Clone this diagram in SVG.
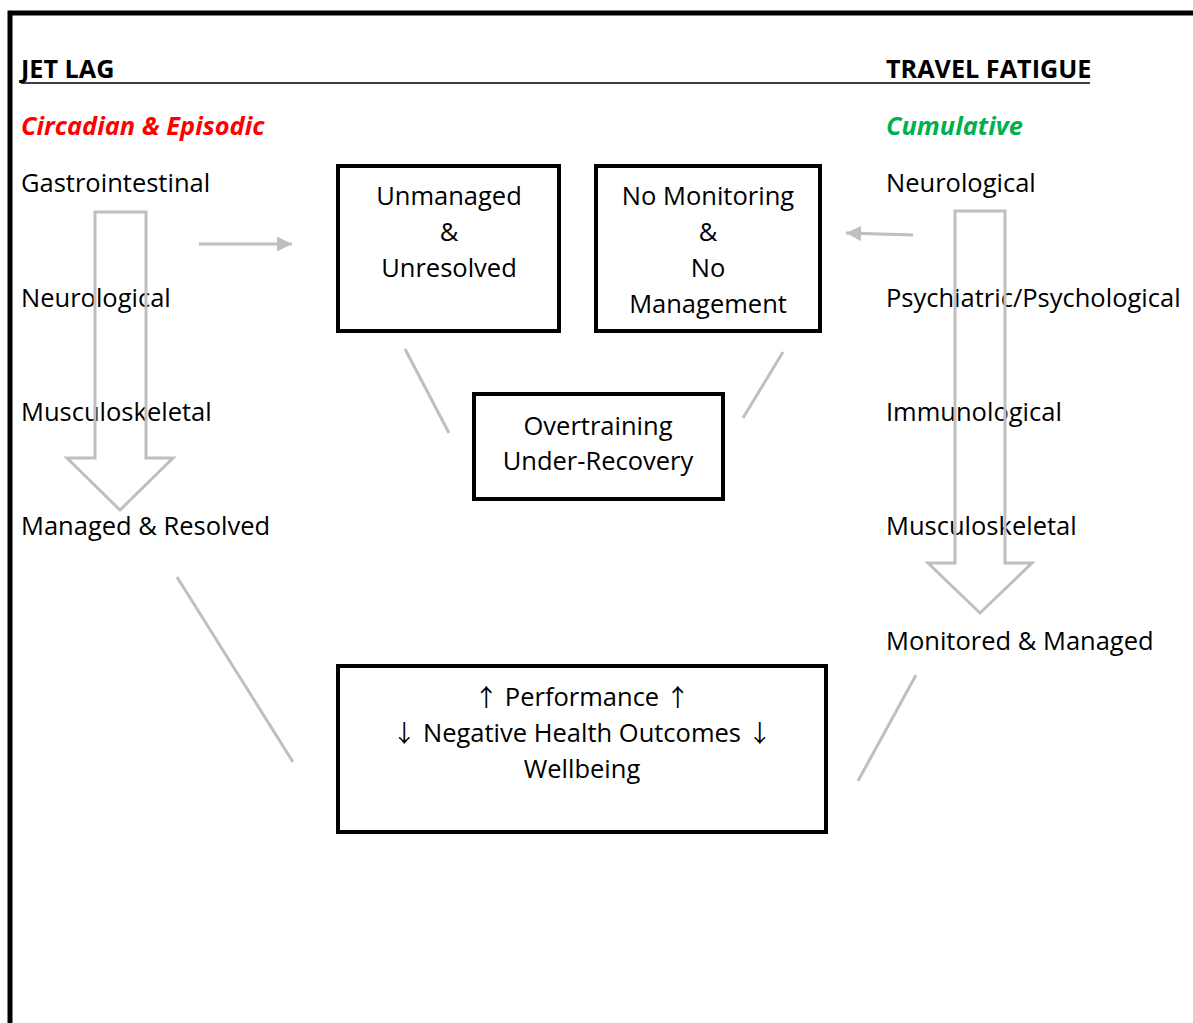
<svg xmlns="http://www.w3.org/2000/svg" width="1193" height="1023" viewBox="0 0 1193 1023">
<style>
text{font-family:"Open Sans","Noto Sans","Liberation Sans",sans-serif;font-size:25.5px;fill:#000}
.h{font-weight:bold;font-size:25.2px}
.sub{font-weight:bold;font-style:italic;font-size:25.4px}
.c{text-anchor:middle}
.ar{font-family:"Noto Sans CJK SC","DejaVu Sans",sans-serif;font-size:24px}
.box{fill:#fff;stroke:#000;stroke-width:4}
.gl{stroke:#BFBFBF;stroke-width:3;fill:none}
.blk{stroke:#BFBFBF;stroke-width:3;fill:none;stroke-linejoin:miter}
</style>
<defs>
<marker id="ah" viewBox="0 0 10 10" refX="10" refY="5" markerWidth="5" markerHeight="5" markerUnits="strokeWidth" orient="auto"><path d="M0,0 L10,5 L0,10 z" fill="#BFBFBF"/></marker>
</defs>
<rect width="1193" height="1023" fill="#fff"/>
<path d="M10,1030 V13 H1200" fill="none" stroke="#000" stroke-width="5"/>
<g id="headers">
<text class="h" x="21" y="78">JET LAG</text>
<text class="h" x="886" y="78">TRAVEL FATIGUE</text>
<line x1="21" y1="83" x2="1090" y2="83" stroke="#000" stroke-width="1.6"/>
<text class="sub" x="21" y="135" style="fill:#FF0000">Circadian &amp; Episodic</text>
<text class="sub" x="886" y="135" style="fill:#00B050">Cumulative</text>
</g>
<g id="left-list">
<text x="21" y="192">Gastrointestinal</text>
<text x="21" y="307">Neurological</text>
<text x="21" y="421">Musculoskeletal</text>
<text x="21" y="535">Managed &amp; Resolved</text>
</g>
<g id="right-list">
<text x="886" y="192">Neurological</text>
<text x="886" y="307">Psychiatric/Psychological</text>
<text x="886" y="421">Immunological</text>
<text x="886" y="535">Musculoskeletal</text>
<text x="886" y="650">Monitored &amp; Managed</text>
</g>
<g id="connectors">
<path class="blk" d="M95,212 H146 V458 H173 L120,510 L67,458 H95 Z"/>
<path class="blk" d="M955,211 H1005 V563 H1032 L980,613 L928,563 H955 Z"/>
<line class="gl" x1="199" y1="244" x2="292" y2="244" marker-end="url(#ah)"/>
<line class="gl" x1="913" y1="235" x2="846" y2="233" marker-end="url(#ah)"/>
<line class="gl" x1="405" y1="349" x2="449" y2="433"/>
<line class="gl" x1="783" y1="352" x2="743" y2="418"/>
<line class="gl" x1="177" y1="577" x2="293" y2="762"/>
<line class="gl" x1="916" y1="675" x2="858" y2="781"/>
</g>
<g id="unmanaged">
<rect class="box" x="338" y="166" width="221" height="165"/>
<text class="c" x="449" y="205">Unmanaged</text>
<text class="c" x="449" y="241">&amp;</text>
<text class="c" x="449" y="277">Unresolved</text>
</g>
<g id="nomonitoring">
<rect class="box" x="596" y="166" width="224" height="165"/>
<text class="c" x="708" y="205">No Monitoring</text>
<text class="c" x="708" y="241">&amp;</text>
<text class="c" x="708" y="277">No</text>
<text class="c" x="708" y="313">Management</text>
</g>
<g id="overtraining">
<rect class="box" x="474" y="394" width="249" height="105"/>
<text class="c" x="598" y="435">Overtraining</text>
<text class="c" x="598" y="470">Under-Recovery</text>
</g>
<g id="outcomes">
<rect class="box" x="338" y="666" width="488" height="166"/>
<text class="c" x="582" y="706"><tspan class="ar">↑</tspan> Performance <tspan class="ar">↑</tspan></text>
<text class="c" x="582" y="742"><tspan class="ar">↓</tspan> Negative Health Outcomes <tspan class="ar">↓</tspan></text>
<text class="c" x="582" y="778">Wellbeing</text>
</g>
</svg>
